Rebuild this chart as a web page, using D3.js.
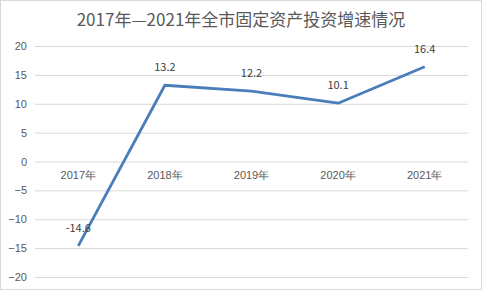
<!DOCTYPE html>
<html><head><meta charset="utf-8">
<script src="https://cdn.jsdelivr.net/npm/d3@7"></script>
<style>body{margin:0;background:#fff;}svg{display:block;font-family:"Noto Sans CJK SC","Noto Sans",sans-serif;}</style>
</head><body>
<script>
const title = "2017年—2021年全市固定资产投资增速情况";
const categories = ["2017年","2018年","2019年","2020年","2021年"];
const values = [-14.6, 13.2, 12.2, 10.1, 16.4];
const yTicks = [-20,-15,-10,-5,0,5,10,15,20];

const W = 482, H = 290;
const svg = d3.select("body").append("svg").attr("width", W).attr("height", H);
svg.append("rect").attr("x",0.5).attr("y",0.5).attr("width",W-1).attr("height",H-1)
  .attr("fill","#fff").attr("stroke","#d9d9d9");

const x = d3.scaleBand().domain(categories).range([35, 468]);
const y = d3.scaleLinear().domain([-20, 20]).range([277, 46]);

svg.append("text").attr("x", 241).attr("y", 26).attr("text-anchor","middle")
  .attr("font-size", 17).attr("fill","#595959").text(title);

const gy = svg.append("g").attr("transform","translate(35,0)")
  .call(d3.axisLeft(y).tickValues(yTicks).tickSize(-433).tickPadding(8).tickFormat(d3.format("d")));
gy.select(".domain").remove();
gy.selectAll(".tick line").attr("stroke","#d9d9d9");
gy.selectAll(".tick text").attr("fill","#595959").attr("font-size",11);

const gx = svg.append("g").attr("transform",`translate(0,${y(0)})`)
  .call(d3.axisBottom(x).tickSize(0).tickPadding(10));
gx.select(".domain").remove();
gx.selectAll(".tick text").attr("fill","#595959").attr("font-size",11);

const line = d3.line().x((d,i)=>x(categories[i])+x.bandwidth()/2).y(d=>y(d));
svg.append("path").datum(values).attr("d", line).attr("fill","none")
  .attr("stroke","#4a7ebb").attr("stroke-width",2.8).attr("stroke-linejoin","round");

svg.selectAll(".lbl").data(values).enter().append("text")
  .attr("x",(d,i)=>x(categories[i])+x.bandwidth()/2)
  .attr("y",d=>y(d)-14)
  .attr("text-anchor","middle").attr("font-size",11).attr("fill","#404040")
  .text(d=>d.toFixed(1));
</script>
</body></html>
